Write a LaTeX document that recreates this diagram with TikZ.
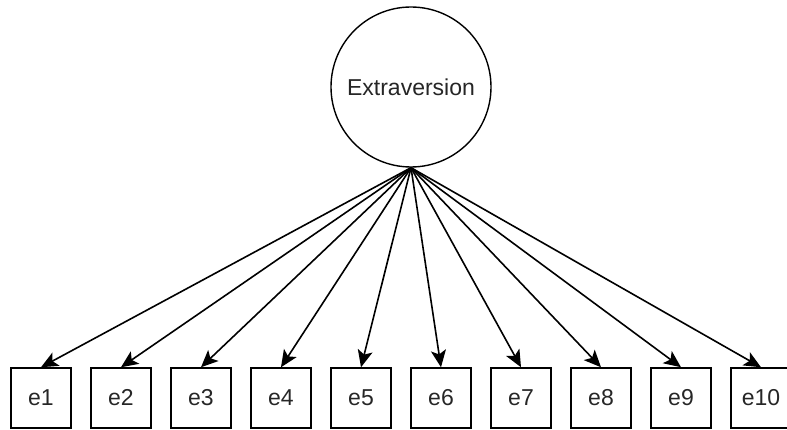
\documentclass[tikz,border=0pt]{standalone}
\usepackage{fontspec}
\setmainfont{Liberation Sans}
\usetikzlibrary{arrows.meta}
\begin{document}
\begin{tikzpicture}[x=1pt,y=-1pt,
  latent/.style={draw, circle, line width=1.4pt, minimum size=160pt, inner sep=0pt,
    font=\fontsize{23}{27}\selectfont, text=black!85},
  indicator/.style={draw, rectangle, line width=1.5pt, minimum width=60pt, minimum height=60pt,
    inner sep=0pt, font=\fontsize{23}{27}\selectfont, text=black!85},
  loading/.style={line width=1.6pt, -{Stealth[length=17pt,width=15pt,inset=4pt]}}]
  \useasboundingbox (0,0) rectangle (787,430);
  \begin{scope}
    \clip (0,0) rectangle (787,430);
    \node[latent] (F) at (411,87) {Extraversion};
    \coordinate (src) at (F.south);
    \foreach \i in {1,...,10} {
      \node[indicator] (e\i) at ({41+80*(\i-1)},398) {e\i};
      \draw[loading] (src) -- (e\i.north);
    }
  \end{scope}
\end{tikzpicture}
\end{document}
